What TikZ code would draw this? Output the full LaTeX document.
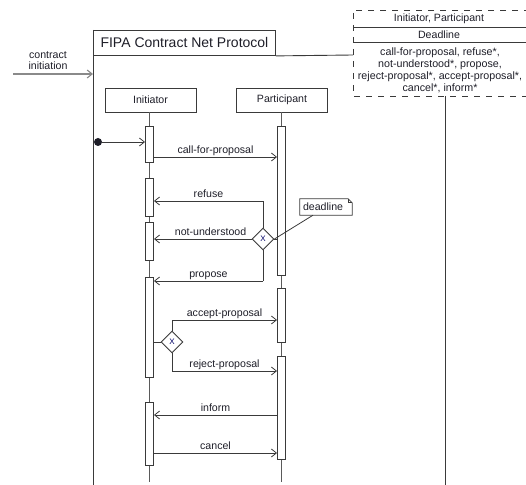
\documentclass[tikz,border=0pt]{standalone}
\usepackage{fontspec}
\setmainfont{Liberation Sans}
\usetikzlibrary{arrows.meta,shapes.geometric}
\definecolor{ink}{HTML}{1E1E28}
\definecolor{edge}{HTML}{3A3A3A}
\definecolor{life}{HTML}{5A5A5A}
\definecolor{feed}{HTML}{8A8A8A}
\begin{document}
\begin{tikzpicture}[x=1bp,y=-1bp,
  every node/.style={text=ink, font=\fontsize{10.6bp}{12bp}\selectfont},
  frameline/.style={draw=edge, line width=0.9bp},
  tabbox/.style={draw=edge, line width=0.9bp, minimum width=182bp, minimum height=25bp, inner sep=0pt, anchor=north west, font=\fontsize{14bp}{16bp}\selectfont},
  paramline/.style={draw=edge, line width=0.8bp, dash pattern=on 6bp off 6bp},
  headbox/.style={draw=edge, line width=0.9bp, minimum width=91bp, minimum height=24bp, inner sep=0pt},
  actbar/.style={draw=edge, fill=white, line width=0.9bp, minimum width=8bp, inner sep=0pt},
  lifeline/.style={draw=life, line width=0.8bp},
  msg/.style={draw=edge, line width=0.8bp, -{Straight Barb[length=5bp,width=8bp]}},
  feedarrow/.style={draw=feed, line width=1.1bp, -{Straight Barb[length=5bp,width=8bp]}},
  wire/.style={draw=edge, line width=0.8bp},
  lbl/.style={anchor=base, yshift=3.5bp, inner sep=0pt},
  choice/.style={diamond, draw=edge, fill=white, line width=0.9bp, minimum width=22bp, minimum height=22bp, inner sep=0pt, text=blue!40!black, font=\fontsize{8bp}{8bp}\selectfont},
  notebox/.style={minimum height=16bp, text width=46bp, align=left, inner xsep=3bp, inner ysep=0pt}
]
\useasboundingbox (0,0) rectangle (526,485);
\clip (0,0) rectangle (526,485);

% protocol frame with its name tab
\node[tabbox] (tab) at (93,30) {FIPA Contract Net Protocol};
\coordinate (fbl) at (93,485);
\coordinate (ftr) at (353,55);
\coordinate (frt) at (445,96);
\coordinate (frb) at (445,485);
\draw[frameline] (tab.north west) -- (fbl);
\draw[frameline] (tab.south east) -- (ftr);
\draw[frameline] (frt) -- (frb);

% template parameters
\draw[paramline] (530,10) -- (353,10) -- (353,96) -- (530,96);
\draw[wire] (353,27) -- (530,27);
\draw[wire] (353,42) -- (530,42);
\node (roles) at (439,19) {Initiator, Participant};
\node (dlpar) at (439,35) {Deadline};
\node[align=center, inner sep=0pt, font=\fontsize{10.7bp}{12bp}\selectfont] (acts) at (440,70.5) {call-for-proposal, refuse*,\\not-understood*, propose,\\reject-proposal*, accept-proposal*,\\cancel*, inform*};

% entry point
\node[align=center, inner sep=0pt, font=\fontsize{10.6bp}{11bp}\selectfont] (ci) at (48,60.5) {contract\\initiation};
\coordinate (ciL) at (13,74);
\coordinate (ciR) at (93,74);
\draw[feedarrow] (ciL) -- (ciR);

% lifelines
\node[headbox] (ini) at (150.5,100) {Initiator};
\node[headbox] (par) at (282,100) {Participant};
\coordinate (iend) at (149.5,482);
\coordinate (pend) at (281.5,482);
\draw[lifeline] (ini.south -| iend) -- (iend);
\draw[lifeline] (par.south -| pend) -- (pend);

% activation bars
\node[actbar, minimum height=36bp]  (i1) at (149.5,144) {};
\node[actbar, minimum height=38bp]  (i2) at (149.5,197) {};
\node[actbar, minimum height=38bp]  (i3) at (149.5,241) {};
\node[actbar, minimum height=100bp] (i4) at (149.5,327) {};
\node[actbar, minimum height=63bp]  (i5) at (149.5,433.5) {};
\node[actbar, minimum height=149bp] (p1) at (281.5,200.5) {};
\node[actbar, minimum height=54bp]  (p2) at (281.5,315) {};
\node[actbar, minimum height=103bp] (p3) at (281.5,407.5) {};

% initial node
\node[circle, fill=ink, minimum size=8bp, inner sep=0pt] (start) at (98,142) {};
\draw[msg] (start) -- (i1.west |- start);

% call for proposal
\draw[msg] (i1.east |- 0,157) -- node[lbl] {call-for-proposal} (p1.west |- 0,157);

% participant's answer
\node[choice] (d1) at (263,239) {X};
\coordinate (r1) at (263,201);
\coordinate (r3) at (263,281);
\draw[wire] (d1.east) -- (p1.west |- d1.east);
\draw[wire] (d1.north) -- (r1);
\draw[wire] (d1.south) -- (r3);
\draw[msg] (r1) -- node[lbl] {refuse} (i2.east |- r1);
\draw[msg] (d1.west) -- node[lbl, pos=.42] {not-understood} (i3.east |- d1.west);
\draw[msg] (r3) -- node[lbl] {propose} (i4.east |- r3);

% deadline note
\node[notebox] (dl) at (326,207) {deadline};
\draw[wire] (dl.south west) -- (dl.north west) -- ([xshift=-4bp]dl.north east) -- ([yshift=-4bp]dl.north east) -- (dl.south east) -- cycle;
\draw[wire] ([xshift=-4bp]dl.north east) -- ([xshift=-4bp,yshift=-4bp]dl.north east) -- ([yshift=-4bp]dl.north east);
\draw[wire] ([xshift=-13bp]dl.south) -- (d1.east);

% initiator's decision
\node[choice] (d2) at (172,342) {X};
\coordinate (a1) at (172,320);
\coordinate (a2) at (172,371);
\draw[wire] (i4.east |- d2.west) -- (d2.west);
\draw[wire] (d2.north) -- (a1);
\draw[wire] (d2.south) -- (a2);
\draw[msg] (a1) -- node[lbl] {accept-proposal} (p2.west |- a1);
\draw[msg] (a2) -- node[lbl] {reject-proposal} (p3.west |- a2);

% result
\draw[msg] (p3.west |- 0,415) -- node[lbl] {inform} (i5.east |- 0,415);
\draw[msg] (i5.east |- 0,453) -- node[lbl] {cancel} (p3.west |- 0,453);
\end{tikzpicture}
\end{document}
